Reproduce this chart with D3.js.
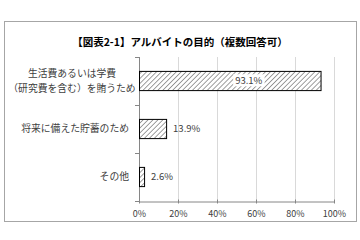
<!DOCTYPE html>
<html><head><meta charset="utf-8">
<script src="https://cdn.jsdelivr.net/npm/d3@7/dist/d3.min.js"></script>
<style>html,body{margin:0;padding:0;background:#fff;}svg{display:block;}</style>
</head><body>
<script>
const title = "【図表2-1】アルバイトの目的（複数回答可）";
const categories = ["生活費あるいは学費\n（研究費を含む）を賄うため", "将来に備えた貯蓄のため", "その他"];
const values = [93.1, 13.9, 2.6];
const ticks = [0, 20, 40, 60, 80, 100];

const W = 360, H = 240;
const font = "'Noto Sans CJK JP', 'Noto Sans', sans-serif";
const svg = d3.select("body").append("svg").attr("width", W).attr("height", H);

const defs = svg.append("defs");
const pat = defs.append("pattern").attr("id", "hatch").attr("patternUnits", "userSpaceOnUse")
  .attr("width", 3.5).attr("height", 3.5).attr("patternTransform", "rotate(45)");
pat.append("rect").attr("width", 3.5).attr("height", 3.5).attr("fill", "#fff");
pat.append("line").attr("x1", 0).attr("y1", 0).attr("x2", 0).attr("y2", 3.5)
  .attr("stroke", "#404040").attr("stroke-width", 1);

svg.append("rect").attr("x", 4.5).attr("y", 21.5).attr("width", 352).attr("height", 200)
  .attr("fill", "#fff").attr("stroke", "#a6a6a6").attr("stroke-width", 1);

svg.append("text").attr("x", 180).attr("y", 46).attr("text-anchor", "middle")
  .attr("font-family", font).attr("font-size", 10.5).attr("font-weight", "bold")
  .attr("fill", "#000").text(title);

const x = d3.scaleLinear().domain([0, 100]).range([139, 334]);
const y = d3.scaleBand().domain(categories).range([57, 201]).paddingInner(0.6).paddingOuter(0.3);
const band = d3.scaleBand().domain(categories).range([57, 201]);

const g = svg.append("g");
// gridlines
g.selectAll(".grid").data(ticks.slice(1)).join("line")
  .attr("x1", d => Math.round(x(d)) + 0.5).attr("x2", d => Math.round(x(d)) + 0.5)
  .attr("y1", 57).attr("y2", 201).attr("stroke", "#d9d9d9").attr("stroke-width", 1);

// x axis
const xa = g.append("g").attr("transform", "translate(0,201.5)")
  .call(d3.axisBottom(x).tickValues(ticks).tickFormat(d => d + "%").tickSize(4).tickSizeOuter(0));
xa.select(".domain").attr("stroke", "#868686");
xa.selectAll(".tick line").attr("stroke", "#868686").attr("y1", -2).attr("y2", 2);
xa.selectAll(".tick text").attr("font-family", font).attr("font-size", 9).attr("fill", "#404040").attr("dy", "0.95em");

// y axis line with ticks at band boundaries
g.append("line").attr("x1", 139.5).attr("x2", 139.5).attr("y1", 57).attr("y2", 201)
  .attr("stroke", "#868686");
const bounds = [57, ...categories.map(c => band(c) + band.bandwidth())];
g.selectAll(".ytick").data(bounds).join("line")
  .attr("x1", 135).attr("x2", 139.5).attr("y1", d => Math.round(d) + 0.5).attr("y2", d => Math.round(d) + 0.5)
  .attr("stroke", "#868686");

// bars
g.selectAll(".bar").data(values).join("rect")
  .attr("x", x(0) + 0.5).attr("y", (d, i) => y(categories[i]))
  .attr("width", d => x(d) - x(0)).attr("height", y.bandwidth())
  .attr("fill", "url(#hatch)").attr("stroke", "#000").attr("stroke-width", 1);

// value labels
const lg = g.append("g");
values.forEach((v, i) => {
  const cy = y(categories[i]) + y.bandwidth() / 2;
  const txt = v.toFixed(1) + "%";
  if (v > 50) {
    const cx = (x(0) + x(v)) / 2 + 19;
    const bg = lg.append("rect").attr("fill", "#fff");
    const t = lg.append("text").attr("x", cx).attr("y", cy).attr("dy", "0.35em")
      .attr("text-anchor", "middle").attr("font-family", font).attr("font-size", 9.5)
      .attr("fill", "#404040").text(txt);
    const bb = t.node().getBBox();
    bg.attr("x", bb.x - 2).attr("y", bb.y + 1).attr("width", bb.width + 4).attr("height", bb.height - 2);
  } else {
    lg.append("text").attr("x", x(v) + 7).attr("y", cy).attr("dy", "0.35em")
      .attr("font-family", font).attr("font-size", 9.5).attr("fill", "#404040").text(txt);
  }
});

// category labels
categories.forEach((c, i) => {
  const lines = c.split("\n");
  const cy = band(c) + band.bandwidth() / 2;
  const lh = 14.2;
  lines.forEach((ln, j) => {
    g.append("text").attr("font-family", font).attr("font-size", 9.8).attr("fill", "#404040")
      .attr("text-anchor", lines.length > 1 ? "middle" : "end")
      .attr("x", lines.length > 1 ? 72 : 129)
      .attr("y", cy + (j - (lines.length - 1) / 2) * lh).attr("dy", "0.35em").text(ln);
  });
});
</script>
</body></html>
